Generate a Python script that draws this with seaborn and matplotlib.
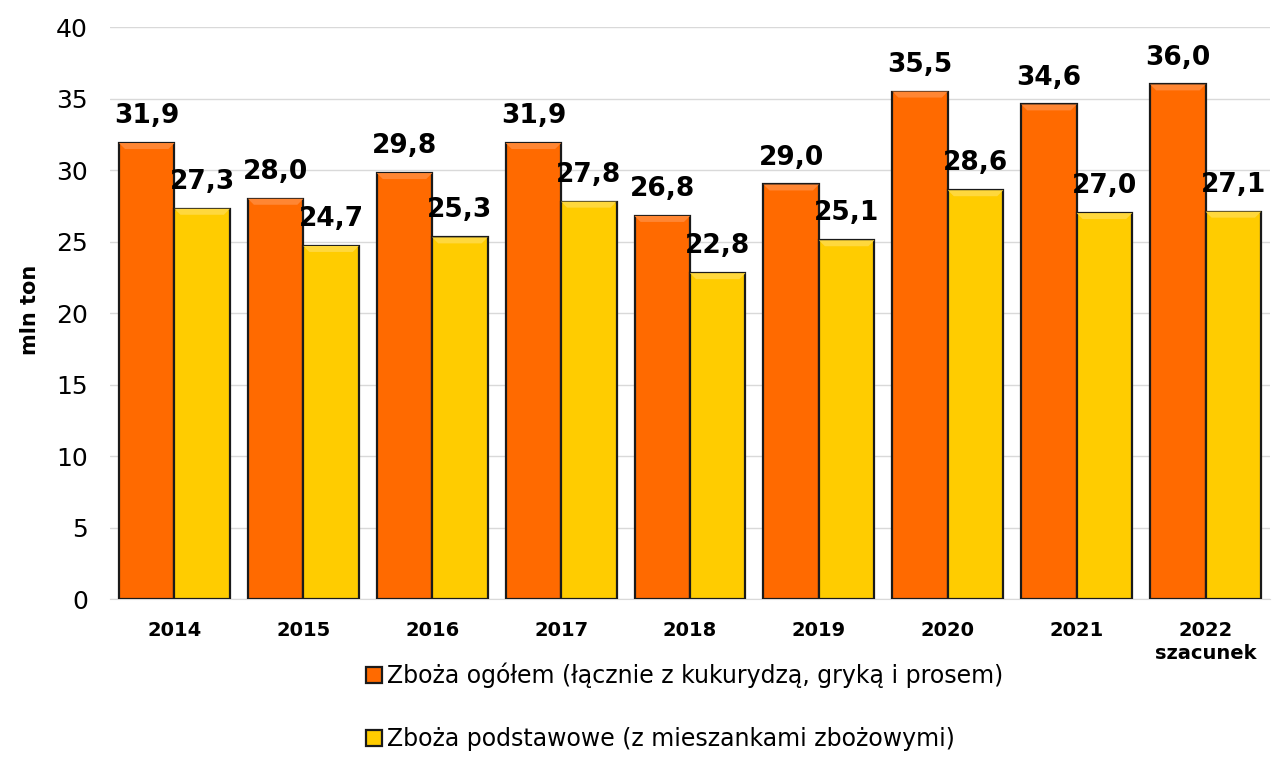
import pandas as pd
import numpy as np
import seaborn as sns
import matplotlib.pyplot as plt
from matplotlib.patches import Polygon

lata = ["2014", "2015", "2016", "2017", "2018", "2019", "2020", "2021", "2022\nszacunek"]
zboza_ogolem = [31.9, 28.0, 29.8, 31.9, 26.8, 29.0, 35.5, 34.6, 36.0]
zboza_podstawowe = [27.3, 24.7, 25.3, 27.8, 22.8, 25.1, 28.6, 27.0, 27.1]
serie = ["Zboża ogółem (łącznie z kukurydzą, gryką i prosem)",
         "Zboża podstawowe (z mieszankami zbożowymi)"]

df = pd.DataFrame({
    "rok": lata * 2,
    "wartosc": zboza_ogolem + zboza_podstawowe,
    "seria": [serie[0]] * len(lata) + [serie[1]] * len(lata),
})

sns.set_style("white")
plt.rcParams['font.family'] = ['DejaVu Sans']
plt.rcParams['text.color'] = 'black'
plt.rcParams['xtick.color'] = 'black'
plt.rcParams['ytick.color'] = 'black'
plt.rcParams['axes.labelcolor'] = 'black'

fig = plt.figure(figsize=(12.79, 7.78), dpi=100)
ax = fig.add_axes([0.086, 0.23, 0.907, 0.735])

sns.barplot(data=df, x="rok", y="wartosc", hue="seria",
            palette=["#FF6A00", "#FFCC00"], saturation=1, width=0.86,
            edgecolor="#1a1a1a", linewidth=1.6, ax=ax, zorder=3)

ax.set_ylim(0, 40)
ax.set_xlim(-0.5, len(lata) - 0.5)

# lekki efekt fazowania na gorze slupkow
light = {0: "#FF8633", 1: "#FFD83D"}
px_y = 0.735 * 778 / 40
px_x = 0.907 * 1279 / len(lata)
for i, cont in enumerate(ax.containers):
    for p in cont.patches:
        x0, w, h = p.get_x(), p.get_width(), p.get_height()
        dy, dx = 6 / px_y, 6 / px_x
        poly = Polygon([[x0, h], [x0 + w, h], [x0 + w - dx, h - dy], [x0 + dx, h - dy]],
                       closed=True, facecolor=light[i], edgecolor="none", zorder=3.5)
        ax.add_patch(poly)

for cont in ax.containers:
    labels = [f"{v:.1f}".replace(".", ",") for v in cont.datavalues]
    ax.bar_label(cont, labels=labels, padding=10, fontsize=19, fontweight="bold")

ax.set_yticks(np.arange(0, 41, 5))
ax.yaxis.grid(True, color="#d9d9d9", linewidth=1, zorder=0)
ax.set_axisbelow(True)
for s in ["top", "right", "left"]:
    ax.spines[s].set_visible(False)
ax.spines["bottom"].set_color("#d9d9d9")
ax.tick_params(axis="y", length=0, labelsize=18, pad=16)
ax.tick_params(axis="x", length=0, pad=16)
for t in ax.get_xticklabels():
    t.set_fontweight("bold")
    t.set_fontsize(14)
    t.set_linespacing(1.25)
ax.set_xlabel("")
ax.set_ylabel("mln ton", fontsize=15, fontweight="bold")
ax.yaxis.set_label_coords(-0.06, 0.505)

handles, lbls = ax.get_legend_handles_labels()
ax.legend_.remove()
fig.legend(handles, lbls, loc="lower center", bbox_to_anchor=(0.535, 0.007),
           ncol=1, frameon=False, fontsize=17, handlelength=0.7, handleheight=0.7,
           handletextpad=0.2, labelspacing=1.65)

fig.savefig("out.png", dpi=100)
